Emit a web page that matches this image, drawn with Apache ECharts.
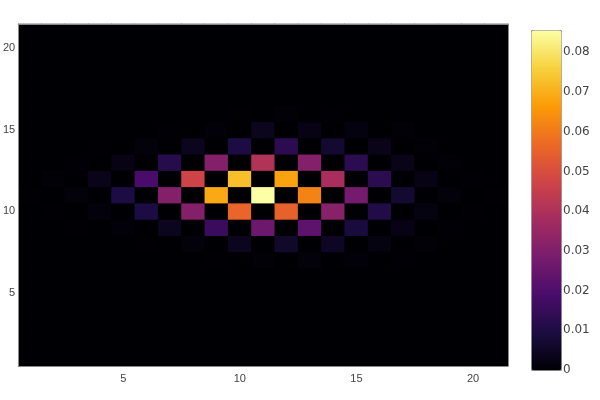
<!DOCTYPE html>
<html>
<head>
<meta charset="utf-8">
<script src="https://cdn.jsdelivr.net/npm/echarts@6/dist/echarts.min.js"></script>
<style>
  html, body { margin: 0; padding: 0; background: #fff; }
</style>
</head>
<body>
<div id="heatmap" style="width:600px;height:400px"></div>
<script>
    // column / row labels (1..21)
    const xCats = ['1','2','3','4','5','6','7','8','9','10','11','12','13','14','15','16','17','18','19','20','21'];
    const yCats = ['1','2','3','4','5','6','7','8','9','10','11','12','13','14','15','16','17','18','19','20','21'];
    const colorTicks = [0, 0.01, 0.02, 0.03, 0.04, 0.05, 0.06, 0.07, 0.08];
    const zMax = 0.0856;

    // values per row (columns 1..21); rows not listed are all zero
    const row7  = [0,0,0,0,0,0,0,0,0.0002,0,0.0005,0,0.001,0,0.0008,0,0.0003,0,0,0,0];
    const row8  = [0,0,0,0,0,0.0002,0,0.001,0,0.004,0,0.006,0,0.005,0,0.002,0,0.0004,0,0,0];
    const row9  = [0,0,0.0002,0,0.0008,0,0.004,0,0.016,0,0.026,0,0.023,0,0.009,0,0.0025,0,0.0003,0,0];
    const row10 = [0,0.0002,0,0.0012,0,0.010,0,0.031,0,0.056,0,0.055,0,0.032,0,0.011,0,0.002,0,0.0002,0];
    const row11 = [0.0002,0,0.001,0,0.010,0,0.031,0,0.069,0,0.0856,0,0.062,0,0.028,0,0.007,0,0.001,0,0.0001];
    const row12 = [0,0.0005,0,0.003,0,0.019,0,0.047,0,0.073,0,0.068,0,0.039,0,0.013,0,0.0025,0,0.0003,0];
    const row13 = [0,0,0.0003,0,0.0025,0,0.012,0,0.031,0,0.041,0,0.031,0,0.013,0,0.003,0,0.0004,0,0];
    const row14 = [0,0,0,0.0002,0,0.001,0,0.004,0,0.010,0,0.013,0,0.007,0,0.003,0,0.0006,0,0,0];
    const row15 = [0,0,0,0,0,0,0.0003,0,0.0008,0,0.004,0,0.0025,0,0.0015,0,0.0004,0,0,0,0];
    const row16 = [0,0,0,0,0,0,0,0,0,0.0002,0,0.0004,0,0.0003,0,0,0,0,0,0,0];

    const rowsByY = { 7: row7, 8: row8, 9: row9, 10: row10, 11: row11, 12: row12, 13: row13, 14: row14, 15: row15, 16: row16 };

    const inferno = ['#000004','#1b0c41','#4a0c6b','#781c6d','#a52c60','#cf4446','#ed6925','#fb9b06','#f7d13d','#fcffa4'];

    let cells = [];
    yCats.forEach(function (yc, yi) {
        let row = rowsByY[yc];
        xCats.forEach(function (xc, xi) {
            cells.push([xi, yi, row ? row[xi] : 0]);
        });
    });

    const every5 = function (index, value) { return Number(value) % 5 === 0; };
    const frame = { show: true, lineStyle: { color: '#888', width: 1 } };
    const lbl = { color: '#444', fontSize: 11, fontFamily: 'Liberation Sans, Arial, sans-serif' };

    let chart = echarts.init(document.getElementById('heatmap'));
    chart.setOption({
        animation: false,
        grid: [
            { left: 18, right: 92, top: 24, bottom: 34, show: true, backgroundColor: '#000004', borderWidth: 0 },
            { left: 531, top: 30, width: 30, height: 340, show: false }
        ],
        xAxis: [
            {
                type: 'category', data: xCats, gridIndex: 0, position: 'bottom', z: 5,
                axisLine: frame, axisTick: { show: false }, splitLine: { show: false },
                axisLabel: Object.assign({ interval: every5, margin: 7 }, lbl)
            },
            {
                type: 'category', data: xCats, gridIndex: 0, position: 'top', z: 5,
                axisLine: frame, axisTick: { show: false }, axisLabel: { show: false }, splitLine: { show: false }
            },
            {
                type: 'value', gridIndex: 1, show: false
            }
        ],
        yAxis: [
            {
                type: 'category', data: yCats, gridIndex: 0, position: 'left', z: 5,
                axisLine: frame, axisTick: { show: false }, splitLine: { show: false },
                axisLabel: Object.assign({ interval: every5, margin: 3 }, lbl)
            },
            {
                type: 'category', data: yCats, gridIndex: 0, position: 'right', z: 5,
                axisLine: frame, axisTick: { show: false }, axisLabel: { show: false }, splitLine: { show: false }
            },
            {
                type: 'value', gridIndex: 1, position: 'right', min: 0, max: zMax, interval: 0.01,
                axisLine: { show: false }, axisTick: { show: false }, splitLine: { show: false },
                axisLabel: {
                    margin: 2, showMaxLabel: false,
                    color: '#444', fontSize: 12, fontFamily: 'DejaVu Sans, Verdana, sans-serif',
                    formatter: function (v) { return colorTicks.indexOf(Math.round(v * 100) / 100) < 0 ? '' : (v === 0 ? '0' : v.toFixed(2)); }
                }
            }
        ],
        visualMap: {
            type: 'continuous',
            min: 0,
            max: zMax,
            calculable: false,
            orient: 'vertical',
            left: 531,
            top: 30,
            itemWidth: 30,
            itemHeight: 340,
            padding: 0,
            borderColor: '#999',
            borderWidth: 1,
            text: null,
            seriesIndex: 0,
            inRange: { color: inferno }
        },
        series: [
            {
                type: 'heatmap',
                xAxisIndex: 0,
                yAxisIndex: 0,
                data: cells,
                emphasis: { disabled: true }
            }
        ]
    });
</script>
</body>
</html>
